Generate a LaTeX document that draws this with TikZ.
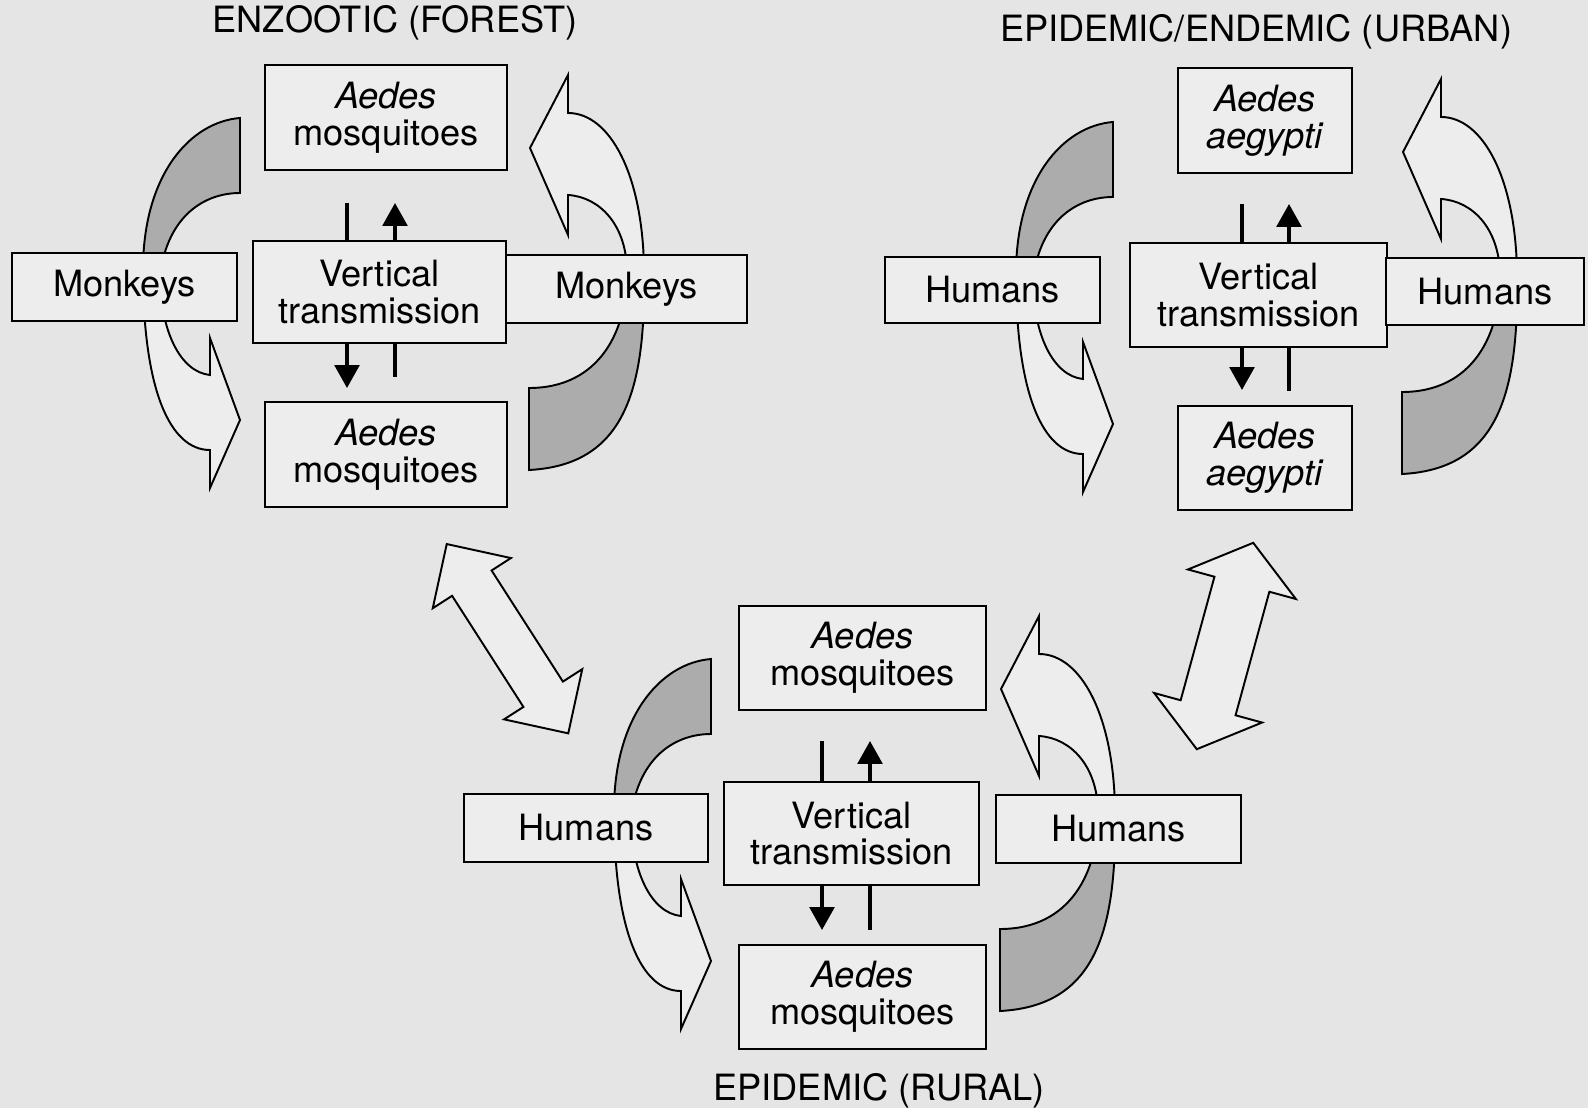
\documentclass[tikz,border=0pt]{standalone}
\usepackage{fontspec}
\setmainfont{TeX Gyre Heros}
\usetikzlibrary{arrows.meta,shapes.arrows}

\definecolor{page}{RGB}{229,229,229}
\definecolor{paper}{RGB}{237,237,237}
\definecolor{stipple}{RGB}{172,172,172}

\begin{document}
\begin{tikzpicture}[x=0.02cm, y=-0.02cm,
    every node/.style={font=\fontsize{20.6}{20.8}\selectfont},
    box/.style={draw, line width=1.1pt, fill=paper, align=center, inner sep=0pt},
    title/.style={anchor=base, inner sep=0pt},
    vline/.style={line width=2pt},
    varrow/.style={line width=2pt, -{Triangle[width=14pt,length=13pt]}},
    headband/.style={draw, line width=1.1pt, fill=paper},
    tailband/.style={draw, line width=1.1pt, fill=stipple},
    link/.style={double arrow, draw, line width=1.1pt, fill=paper, inner xsep=0pt, outer sep=0pt}]
    \fill[page] (0,0) rectangle (1588,1108);
    \useasboundingbox (0,0) rectangle (1588,1108);

    % curved arrows, same shape in the three cycles
    \foreach \dx/\dy in {0/0, 873/4, 471/541} {
    \begin{scope}[shift={(\dx,\dy)}]
        \path[headband] (143,270) .. controls (143,390) and (170,450) .. (210,450)
            -- (210,488) -- (240,420) -- (210,338) -- (210,375)
            .. controls (180,372) and (160,330) .. (160,275) -- cycle;
        \path[tailband] (240,118) .. controls (190,122) and (143,175) .. (143,270)
            -- (160,275) .. controls (168,215) and (205,193) .. (240,193) -- cycle;
        \path[headband] (644,270) .. controls (643,175) and (610,113) .. (568,113)
            -- (568,75) -- (530,148) -- (568,235) -- (568,195)
            .. controls (600,197) and (626,225) .. (627,270) -- cycle;
        \path[tailband] (644,270) .. controls (646,390) and (625,465) .. (529,470)
            -- (529,388) .. controls (600,388) and (628,330) .. (627,270) -- cycle;
    \end{scope}
    }

    \node[title] (titleA) at (395,33) {ENZOOTIC (FOREST)};
    \node[box, minimum width=4.84cm, minimum height=2.10cm] (topA) at (386,117.5) {\textit{Aedes}\\mosquitoes};
    \node[box, minimum width=5.06cm, minimum height=2.04cm] (vtA) at (379.5,292) {Vertical\\transmission};
    \node[box, minimum width=4.50cm, minimum height=1.36cm] (monkL) at (124.5,287) {Monkeys};
    \node[box, minimum width=4.82cm, minimum height=1.36cm] (monkR) at (626.5,289) {Monkeys};
    \node[box, minimum width=4.84cm, minimum height=2.10cm] (botA) at (386,454.5) {\textit{Aedes}\\mosquitoes};

    \node[title] (titleB) at (1256,42) {EPIDEMIC/ENDEMIC (URBAN)};
    \node[box, minimum width=3.48cm, minimum height=2.10cm] (topB) at (1265,120.5) {\textit{Aedes}\\\textit{aegypti}};
    \node[box, minimum width=5.14cm, minimum height=2.08cm] (vtB) at (1258.5,295) {Vertical\\transmission};
    \node[box, minimum width=4.30cm, minimum height=1.32cm] (humBL) at (992.5,290) {Humans};
    \node[box, minimum width=3.96cm, minimum height=1.34cm] (humBR) at (1485,291.5) {Humans};
    \node[box, minimum width=3.48cm, minimum height=2.08cm] (botB) at (1265,458) {\textit{Aedes}\\\textit{aegypti}};

    \node[title] (titleC) at (879,1100) {EPIDEMIC (RURAL)};
    \node[box, minimum width=4.94cm, minimum height=2.08cm] (topC) at (862.5,658) {\textit{Aedes}\\mosquitoes};
    \node[box, minimum width=5.10cm, minimum height=2.06cm] (vtC) at (851.5,833.5) {Vertical\\transmission};
    \node[box, minimum width=4.88cm, minimum height=1.36cm] (humCL) at (586,828) {Humans};
    \node[box, minimum width=4.90cm, minimum height=1.36cm] (humCR) at (1118.5,829) {Humans};
    \node[box, minimum width=4.94cm, minimum height=2.08cm] (botC) at (862.5,997) {\textit{Aedes}\\mosquitoes};

    \node[link, rotate=-57.3, minimum height=4.5cm, inner ysep=0.45cm,
        double arrow head extend=0.46cm] (linkAC) at (507.5,638.7) {};
    \node[link, rotate=74.7, minimum height=4.28cm, inner ysep=0.55cm,
        double arrow head extend=0.55cm, double arrow tip angle=105] (linkBC) at (1225,646) {};

    % vertical transmission
    \coordinate (tA1) at (347,203);  \coordinate (tA2) at (395,203);
    \coordinate (bA1) at (347,388);  \coordinate (bA2) at (395,377);
    \coordinate (tB1) at (1242,204); \coordinate (tB2) at (1289,204);
    \coordinate (bB1) at (1242,390); \coordinate (bB2) at (1289,391);
    \coordinate (tC1) at (822,741);  \coordinate (tC2) at (870,741);
    \coordinate (bC1) at (822,930);  \coordinate (bC2) at (870,930);

    \draw[vline] (vtA.north -| tA1) -- (tA1);
    \draw[varrow] (vtA.north -| tA2) -- (tA2);
    \draw[varrow] (vtA.south -| bA1) -- (bA1);
    \draw[vline] (vtA.south -| bA2) -- (bA2);
    \draw[vline] (vtB.north -| tB1) -- (tB1);
    \draw[varrow] (vtB.north -| tB2) -- (tB2);
    \draw[varrow] (vtB.south -| bB1) -- (bB1);
    \draw[vline] (vtB.south -| bB2) -- (bB2);
    \draw[vline] (vtC.north -| tC1) -- (tC1);
    \draw[varrow] (vtC.north -| tC2) -- (tC2);
    \draw[varrow] (vtC.south -| bC1) -- (bC1);
    \draw[vline] (vtC.south -| bC2) -- (bC2);
\end{tikzpicture}
\end{document}
